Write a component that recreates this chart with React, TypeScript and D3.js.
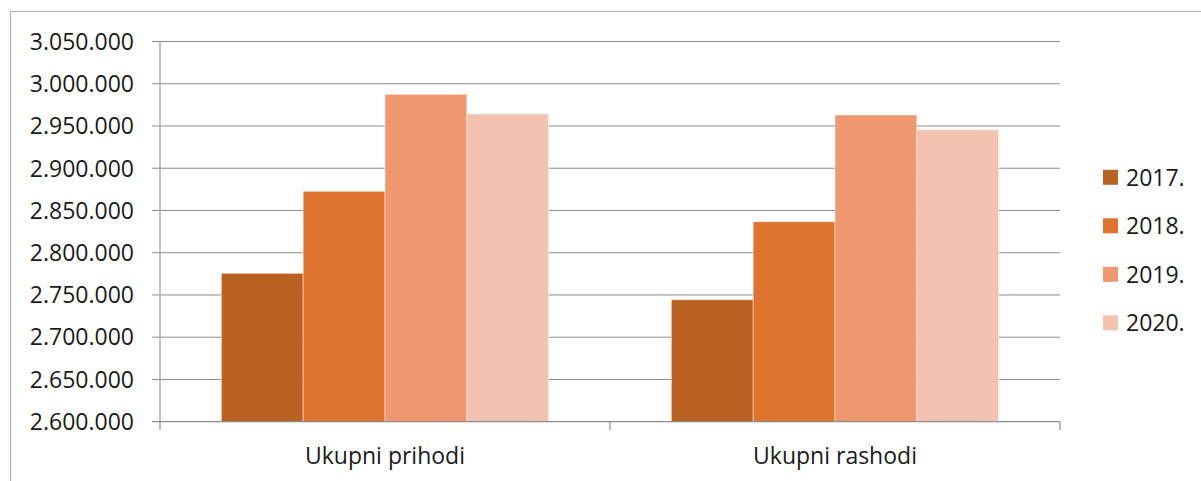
import React, { useEffect, useRef } from "react";
import * as d3 from "d3";

const categories = ["Ukupni prihodi", "Ukupni rashodi"];
const years = ["2017.", "2018.", "2019.", "2020."];
const prihodi = [2775600, 2872700, 2987500, 2964200];
const rashodi = [2744400, 2836700, 2963000, 2945600];
const yTicks = [2600000, 2650000, 2700000, 2750000, 2800000, 2850000, 2900000, 2950000, 3000000, 3050000];
const colors = ["#BA6122", "#DE742D", "#EF9870", "#F4C2B0"];

const width = 1201;
const height = 481;
const font = "'Open Sans', sans-serif";

export default function App() {
  const svgRef = useRef<SVGSVGElement | null>(null);

  useEffect(() => {
    const svg = d3.select(svgRef.current);
    svg.selectAll("*").remove();

    const rows = [prihodi, rashodi];

    const x = d3.scaleBand().domain(categories).range([160, 1060]);
    const xi = d3.scaleBand().domain(years).range([0, x.bandwidth()]).paddingOuter(0.75);
    const y = d3.scaleLinear().domain([2600000, 3050000]).range([421.7, 41.5]);
    const color = d3.scaleOrdinal<string, string>().domain(years).range(colors);

    const fmt = d3.formatLocale({ decimal: ",", thousands: ".", grouping: [3], currency: ["", ""] }).format(",d");

    // outer frame
    svg
      .append("rect")
      .attr("x", 10.5)
      .attr("y", 11.5)
      .attr("width", 1200)
      .attr("height", 480)
      .attr("fill", "none")
      .attr("stroke", "#b3b3b3")
      .attr("stroke-width", 1.2);

    // gridlines
    svg
      .append("g")
      .selectAll("line")
      .data(yTicks.slice(1))
      .join("line")
      .attr("x1", 152)
      .attr("x2", 1060)
      .attr("y1", (d) => y(d))
      .attr("y2", (d) => y(d))
      .attr("stroke", "#8c8c8c")
      .attr("stroke-width", 1);

    // y labels
    svg
      .append("g")
      .selectAll("text")
      .data(yTicks)
      .join("text")
      .attr("x", 134)
      .attr("y", (d) => y(d))
      .attr("dy", "0.36em")
      .attr("text-anchor", "end")
      .attr("font-family", font)
      .attr("font-size", 23)
      .attr("fill", "#1a1a1a")
      .text((d) => fmt(d));

    // bars
    svg
      .append("g")
      .selectAll("g")
      .data(categories)
      .join("g")
      .attr("transform", (d) => `translate(${x(d)},0)`)
      .selectAll("rect")
      .data((d, i) => years.map((yr, j) => ({ yr, v: rows[i][j] })))
      .join("rect")
      .attr("x", (d) => xi(d.yr) as number)
      .attr("width", xi.bandwidth())
      .attr("y", (d) => y(d.v))
      .attr("height", (d) => y(2600000) - y(d.v))
      .attr("fill", (d) => color(d.yr))
      .attr("stroke", "rgba(255,255,255,0.45)")
      .attr("stroke-width", 1);

    // y axis line
    svg
      .append("line")
      .attr("x1", 160)
      .attr("x2", 160)
      .attr("y1", y(3050000))
      .attr("y2", 430)
      .attr("stroke", "#ababab")
      .attr("stroke-width", 1.5);

    // x axis baseline + ticks
    svg
      .append("line")
      .attr("x1", 152)
      .attr("x2", 1060)
      .attr("y1", y(2600000))
      .attr("y2", y(2600000))
      .attr("stroke", "#8c8c8c")
      .attr("stroke-width", 1.2);

    const bounds = [...categories.map((c) => x(c) as number), 1060];
    svg
      .append("g")
      .selectAll("line")
      .data(bounds.slice(1))
      .join("line")
      .attr("x1", (d) => d)
      .attr("x2", (d) => d)
      .attr("y1", y(2600000))
      .attr("y2", 430)
      .attr("stroke", "#8c8c8c")
      .attr("stroke-width", 1.2);

    // category labels
    svg
      .append("g")
      .selectAll("text")
      .data(categories)
      .join("text")
      .attr("x", (d) => (x(d) as number) + x.bandwidth() / 2)
      .attr("y", 464)
      .attr("text-anchor", "middle")
      .attr("font-family", font)
      .attr("font-size", 23)
      .attr("fill", "#1a1a1a")
      .text((d) => d);

    // legend
    const legend = svg
      .append("g")
      .selectAll("g")
      .data(years)
      .join("g")
      .attr("transform", (d, i) => `translate(1103,${177.3 + i * 48.5})`);
    legend
      .append("rect")
      .attr("x", 0)
      .attr("y", -7.5)
      .attr("width", 15)
      .attr("height", 15)
      .attr("fill", (d) => color(d));
    legend
      .append("text")
      .attr("x", 23)
      .attr("y", 0)
      .attr("dy", "0.36em")
      .attr("font-family", font)
      .attr("font-size", 23)
      .attr("fill", "#1a1a1a")
      .text((d) => d);
  }, []);

  return (
    <div style={{ position: "fixed", left: 0, top: 0, background: "#fff" }}>
      <svg ref={svgRef} width={width} height={height} style={{ display: "block" }}></svg>
    </div>
  );
}
